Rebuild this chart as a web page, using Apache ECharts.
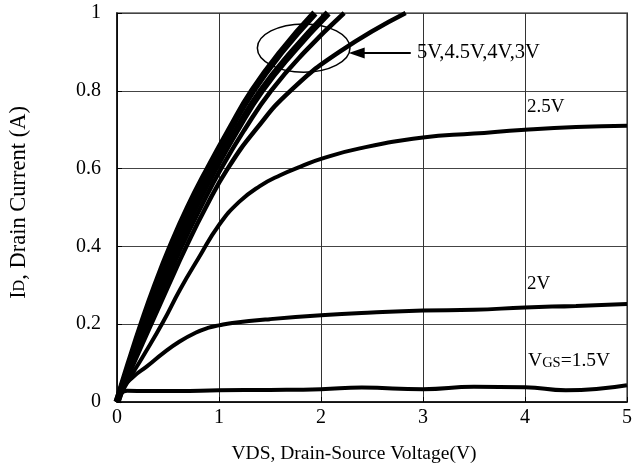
<!DOCTYPE html>
<html><head><meta charset="utf-8">
<script src="https://cdn.jsdelivr.net/npm/echarts@6/dist/echarts.min.js"></script>
<style>html,body{margin:0;padding:0;background:#fff}#c{width:635px;height:474px}</style>
</head><body><div id="c"></div>
<script>
// Tick values
const xTicks = [0, 1, 2, 3, 4, 5];
const yTicks = [0, 0.2, 0.4, 0.6, 0.8, 1];

// Curves [VDS (V), ID (A)]
const vgs5 = [[0,0],[0.12,0.1],[0.245,0.2],[0.38,0.3],[0.53,0.4],[0.70,0.5],[0.895,0.6],[1.105,0.7],[1.33,0.8],[1.61,0.9],[1.94,1.0]];
const vgs45 = [[0,0],[0.135,0.1],[0.28,0.2],[0.425,0.3],[0.585,0.4],[0.765,0.5],[0.96,0.6],[1.175,0.7],[1.415,0.8],[1.72,0.9],[2.07,1.0]];
const vgs4 = [[0,0],[0.15,0.1],[0.31,0.2],[0.47,0.3],[0.635,0.4],[0.82,0.5],[1.02,0.6],[1.25,0.7],[1.51,0.8],[1.84,0.9],[2.227,1.0]];
const vgs3 = [[0,0],[0.165,0.1],[0.335,0.2],[0.505,0.3],[0.68,0.4],[0.87,0.5],[1.085,0.6],[1.36,0.7],[1.70,0.8],[2.18,0.9],[2.83,1.0]];
const vgs25 = [[0,0],[0.1,0.05],[0.25,0.115],[0.45,0.205],[0.62,0.29],[0.8,0.37],[1.0,0.455],[1.2,0.515],[1.4,0.555],[1.6,0.583],[1.8,0.605],[2.0,0.625],[2.38,0.652],[3.0,0.68],[3.5,0.69],[4.0,0.70],[4.5,0.707],[5.0,0.71]];
const vgs2 = [[0,0],[0.03,0.027],[0.16,0.065],[0.29,0.091],[0.45,0.125],[0.61,0.155],[0.77,0.178],[0.9,0.191],[1.0,0.197],[1.13,0.203],[1.5,0.213],[2.0,0.223],[2.5,0.23],[3.0,0.235],[3.5,0.237],[4.0,0.243],[4.5,0.247],[5.0,0.252]];
const vgs15 = [[0,0],[0.04,0.022],[0.1,0.029],[0.3,0.028],[0.6,0.028],[1.0,0.03],[1.5,0.031],[2.0,0.033],[2.4,0.037],[3.0,0.033],[3.5,0.039],[4.0,0.038],[4.4,0.03],[5.0,0.043]];

// Annotation texts
const bundleLabel = '5V,4.5V,4V,3V';
const label25 = '2.5V';
const label2 = '2V';

const FONT = '"Liberation Serif", "Times New Roman", serif';
const chart = echarts.init(document.getElementById('c'), null, {renderer: 'canvas'});

function curve(name, data, width) {
  return {
    name: name, type: 'line', data: data, showSymbol: false, symbol: 'none',
    smooth: 0.5, clip: true,
    lineStyle: {color: '#000', width: width || 4}, silent: true
  };
}

const series = [
  curve('5V', vgs5, 7), curve('4.5V', vgs45, 7), curve('4V', vgs4, 4.5), curve('3V', vgs3, 4.5),
  curve('2.5V', vgs25), curve('2V', vgs2), curve('1.5V', vgs15)
];
series[3].markLine = {
  silent: true, symbol: ['none', 'triangle'], symbolSize: [11, 16],
  label: {show: false},
  lineStyle: {color: '#000', width: 2, type: 'solid'},
  data: [[{coord: [2.88, 0.897]}, {coord: [2.35, 0.897]}]]
};

chart.setOption({
  animation: false,
  backgroundColor: '#fff',
  grid: {left: 116, right: 7, top: 13, bottom: 72, show: true, borderColor: '#888', borderWidth: 2},
  xAxis: {
    type: 'value', min: xTicks[0], max: xTicks[xTicks.length - 1], interval: 1,
    name: 'VDS, Drain-Source Voltage(V)', nameLocation: 'middle', nameGap: 42,
    nameTextStyle: {fontFamily: FONT, fontSize: 19.5, color: '#000', padding: [0, 36, 0, 0]},
    axisLine: {lineStyle: {color: '#000', width: 1.5}},
    axisTick: {inside: true, length: 5, lineStyle: {color: '#000'}},
    axisLabel: {fontFamily: FONT, fontSize: 20, color: '#000', margin: 6},
    splitLine: {show: true, lineStyle: {color: '#333', width: 1}}
  },
  yAxis: {
    type: 'value', min: yTicks[0], max: yTicks[yTicks.length - 1], interval: 0.2,
    name: '{a|I}{b|D}{a|, Drain Current (A)}', nameLocation: 'middle', nameGap: 86,
    nameTextStyle: {padding: [0, 0, 0, 10], rich: {
      a: {fontFamily: FONT, fontSize: 22.5, color: '#000'},
      b: {fontFamily: FONT, fontSize: 16, color: '#000'}
    }},
    axisLine: {show: true, lineStyle: {color: '#000', width: 1.5}},
    axisTick: {show: true, inside: true, length: 5, lineStyle: {color: '#000'}},
    axisLabel: {fontFamily: FONT, fontSize: 20, color: '#000', margin: 16,
      formatter: v => String(Math.round(v * 10) / 10)},
    splitLine: {show: true, lineStyle: {color: '#444', width: 1}}
  },
  series: series
});

function px(p) { return chart.convertToPixel({gridIndex: 0}, p); }
const ec = px([1.83, 0.91]);
const ex = px([2.284, 0.91]);
const ey = px([1.83, 0.972]);
const t1 = px([2.94, 0.897]);
const t2 = px([4.02, 0.758]);
const t3 = px([4.02, 0.303]);
const t4 = px([4.03, 0.105]);
const txt = (p, s, size, rich) => ({
  type: 'text', x: p[0], y: p[1], silent: true,
  style: {text: s, fontFamily: FONT, fontSize: size, fill: '#000', verticalAlign: 'middle', align: 'left', rich: rich}
});
chart.setOption({
  graphic: [
    {type: 'ellipse', silent: true, shape: {cx: ec[0], cy: ec[1], rx: ex[0] - ec[0], ry: ec[1] - ey[1]},
      style: {fill: 'none', stroke: '#000', lineWidth: 1.5}},
    txt(t1, bundleLabel, 20.5),
    txt(t2, label25, 19),
    txt(t3, label2, 19),
    txt(t4, '{a|V}{b|GS}{a|=1.5V}', 19, {
      a: {fontFamily: FONT, fontSize: 19.5, fill: '#000'},
      b: {fontFamily: FONT, fontSize: 14.5, fill: '#000', verticalAlign: 'bottom'}
    })
  ]
});
</script>
</body></html>
